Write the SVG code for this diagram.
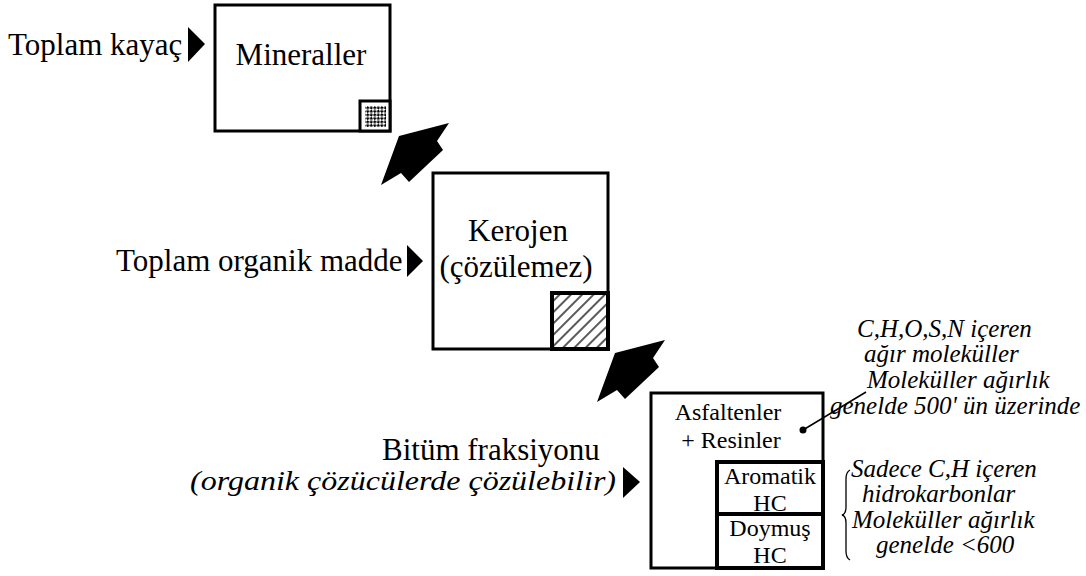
<svg xmlns="http://www.w3.org/2000/svg" xmlns:xlink="http://www.w3.org/1999/xlink" width="1086" height="576" viewBox="0 0 1086 576">
  <style>
    .box { fill: #fff; stroke: #000; stroke-width: 3; }
    .thick { fill: none; stroke: #000; stroke-width: 4; }
    .lbl { font-family: "Liberation Serif", "Times New Roman", serif; font-size: 31px; fill: #000; }
    .in { font-family: "Liberation Serif", "Times New Roman", serif; font-size: 24px; fill: #000; text-anchor: middle; }
    .note { font-family: "Liberation Serif", "Times New Roman", serif; font-size: 25px; font-style: italic; fill: #000; }
    .sub { font-size: 27px; }
    .tri { fill: #000; }
    .fat { fill: #000; }
  </style>
  <defs>
    <!-- fine diagonal checker fill for the mineral fraction -->
    <pattern id="checker" width="5" height="5" patternUnits="userSpaceOnUse" patternTransform="rotate(45)">
      <rect width="5" height="5" fill="#fff"/>
      <rect x="0" y="0" width="2.5" height="2.5" fill="#000"/>
      <rect x="2.5" y="2.5" width="2.5" height="2.5" fill="#000"/>
    </pattern>
    <!-- diagonal hatching for the kerogen fraction -->
    <pattern id="hatch" width="8" height="8" patternUnits="userSpaceOnUse" patternTransform="rotate(-45)">
      <rect width="8" height="8" fill="#fff"/>
      <line x1="0" y1="4" x2="8" y2="4" stroke="#000" stroke-width="1.3"/>
    </pattern>
    <!-- broad block arrow between levels -->
    <path id="fat-arrow" d="M449,123 L399,136 L381,185 L401,173 L409,182 L443,150 L437,141 Z"/>
  </defs>

  <g id="node-mineraller">
    <rect class="box" x="215" y="5" width="175" height="126"/>
    <text class="lbl" x="301" y="65" text-anchor="middle">Mineraller</text>
    <rect x="360" y="101" width="30" height="30" fill="#fff" stroke="#000" stroke-width="3"/>
    <rect x="365" y="106" width="21" height="21" fill="url(#checker)"/>
  </g>

  <g id="node-kerojen">
    <rect class="box" x="433" y="173" width="175" height="176"/>
    <text class="lbl" x="518" y="241" text-anchor="middle">Kerojen</text>
    <text class="lbl" x="516" y="277" text-anchor="middle">(çözülemez)</text>
    <rect x="552" y="293" width="56" height="56" fill="url(#hatch)" stroke="#000" stroke-width="4"/>
  </g>

  <g id="node-bitum">
    <rect class="box" x="651" y="393" width="172" height="175"/>
    <text class="in" x="728" y="420">Asfaltenler</text>
    <text class="in" x="731" y="448">+ Resinler</text>
    <rect class="thick" x="717" y="462" width="106" height="106"/>
    <line x1="717" y1="514" x2="823" y2="514" stroke="#000" stroke-width="4"/>
    <text class="in" x="770" y="484">Aromatik</text>
    <text class="in" x="770" y="511">HC</text>
    <text class="in" x="770" y="536">Doymuş</text>
    <text class="in" x="770" y="563">HC</text>
  </g>

  <g id="label-toplam-kayac">
    <text class="lbl" x="8" y="55">Toplam kayaç</text>
  </g>

  <g id="label-toplam-organik">
    <text class="lbl" x="116" y="271">Toplam organik madde</text>
  </g>

  <g id="label-bitum">
    <text class="lbl" x="382" y="460">Bitüm fraksiyonu</text>
    <text class="note sub" x="190" y="490" textLength="426" lengthAdjust="spacingAndGlyphs">(organik çözücülerde çözülebilir)</text>
  </g>

  <g id="note-asfalten">
    <text class="note" x="857" y="337">C,H,O,S,N içeren</text>
    <text class="note" x="864" y="362">ağır moleküller</text>
    <text class="note" x="867" y="388">Moleküller ağırlık</text>
    <text class="note" x="830" y="414">genelde 500' ün üzerinde</text>
  </g>

  <g id="note-hc">
    <text class="note" x="851" y="477">Sadece C,H içeren</text>
    <text class="note" x="862" y="502">hidrokarbonlar</text>
    <text class="note" x="852" y="528">Moleküller ağırlık</text>
    <text class="note" x="876" y="553">genelde &lt;600</text>
    <path d="M850,470 Q846,472 846,479 L846,507 Q846,514 842,515 Q846,516 846,523 L846,551 Q846,558 850,560" fill="none" stroke="#000" stroke-width="1.3"/>
  </g>

  <g id="connectors">
    <use xlink:href="#fat-arrow" class="fat"/>
    <use xlink:href="#fat-arrow" class="fat" transform="translate(216,217)"/>
    <polygon class="tri" points="188,27 205,44 188,62"/>
    <polygon class="tri" points="407,245 423,261 407,277"/>
    <polygon class="tri" points="623,467 640,482 623,498"/>
    <line x1="803" y1="430" x2="866" y2="392" stroke="#000" stroke-width="1.5"/>
    <circle cx="803" cy="430" r="3.5" fill="#000"/>
  </g>
</svg>
